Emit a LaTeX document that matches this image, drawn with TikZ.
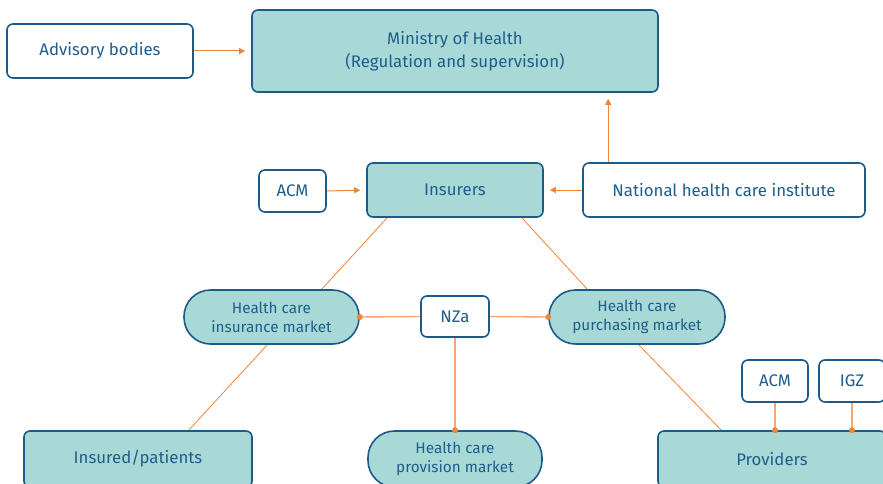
\documentclass[tikz,border=0pt]{standalone}
\usepackage{fontspec}
\setmainfont{Fira Sans}
\usetikzlibrary{arrows.meta,calc}
\definecolor{tealf}{HTML}{A8D9D7}
\definecolor{navy}{HTML}{1D5A87}
\definecolor{txt}{HTML}{1F5E8C}
\definecolor{org}{HTML}{F08537}
\definecolor{peach}{HTML}{F5A674}
\tikzset{
  box/.style={draw=navy, line width=1.6pt, rounded corners=6pt, inner sep=0pt, text=txt, align=center, font=\fontsize{16.8}{23}\selectfont},
  tbox/.style={box, fill=tealf},
  wbox/.style={box, fill=white},
  pill/.style={box, fill=tealf, rounded corners=26.5pt, font=\fontsize{15.3}{19}\selectfont},
  arr/.style={draw=org, line width=1pt, -{Triangle[length=6pt,width=6pt]}, shorten >=6pt},
  lnk/.style={draw=org, line width=0.8pt},
  plnk/.style={draw=peach, line width=1.4pt},
  dot/.style={circle, fill=org, inner sep=0pt, minimum size=6pt}
}
\begin{document}
\begin{tikzpicture}[x=1pt,y=-1pt]
\useasboundingbox (0,0) rectangle (883,484);
\clip (0,0) rectangle (883,484);
% connectors drawn first (under boxes)
\coordinate (i1) at (387,218);
\coordinate (i2) at (522,218);
\coordinate (h1) at (321,290);
\coordinate (h2) at (588,290);
\coordinate (h3) at (268,344);
\coordinate (p1) at (188,431);
\coordinate (h4) at (638,344);
\coordinate (p2) at (722,431);
\draw[lnk] (i1) -- (h1);
\draw[lnk] (i2) -- (h2);
\draw[lnk] (h3) -- (p1);
\draw[lnk] (h4) -- (p2);
% nodes
\node[wbox, minimum width=186pt, minimum height=54pt] (adv) at (100,51) {Advisory bodies};
\node[tbox, minimum width=406pt, minimum height=82pt] (min) at (455,51) {Ministry of Health\\(Regulation and supervision)};
\node[wbox, minimum width=67pt, minimum height=42pt] (acm1) at (292.5,191) {ACM};
\node[tbox, minimum width=176pt, minimum height=54pt] (ins) at (455,190) {Insurers};
\node[wbox, minimum width=282pt, minimum height=54pt] (nat) at (724,190) {National health care institute};
\node[pill, minimum width=175pt, minimum height=54pt] (him) at (271.5,317) {Health care\\insurance market};
\node[wbox, minimum width=68pt, minimum height=41pt] (nza) at (455,316.5) {NZa};
\node[pill, minimum width=176pt, minimum height=54pt] (hpm) at (637,317) {Health care\\purchasing market};
\node[wbox, minimum width=66pt, minimum height=42pt] (acm2) at (775,381) {ACM};
\node[wbox, minimum width=66pt, minimum height=42pt] (igz) at (852,381) {IGZ};
\node[tbox, minimum width=228pt, minimum height=56pt] (pat) at (138,459) {Insured/patients};
\node[pill, minimum width=174pt, minimum height=56pt] (hpv) at (455,459) {Health care\\provision market};
\node[tbox, minimum width=228pt, minimum height=56pt] (pro) at (772,459) {Providers};
% arrows
\draw[arr] (adv.east) -- (min.west);
\draw[arr] (acm1.east) -- (ins.west);
\draw[arr] (nat.west) -- (ins.east);
\coordinate (natup) at ($(nat.north west)+(26,0)$);
\draw[arr] (natup) -- (natup |- min.south);
% NZa links with dots
\draw[plnk] (nza.west) -- (him.east);
\node[dot] at (him.east) {};
\draw[plnk] (nza.east) -- (hpm.west);
\node[dot] at (hpm.west) {};
\draw[plnk] (nza.south) -- (hpv.north);
\node[dot] at (hpv.north) {};
\draw[plnk] (acm2.south) -- (acm2.south |- pro.north);
\node[dot] at (acm2.south |- pro.north) {};
\draw[plnk] (igz.south) -- (igz.south |- pro.north);
\node[dot] at (igz.south |- pro.north) {};
\end{tikzpicture}
\end{document}
